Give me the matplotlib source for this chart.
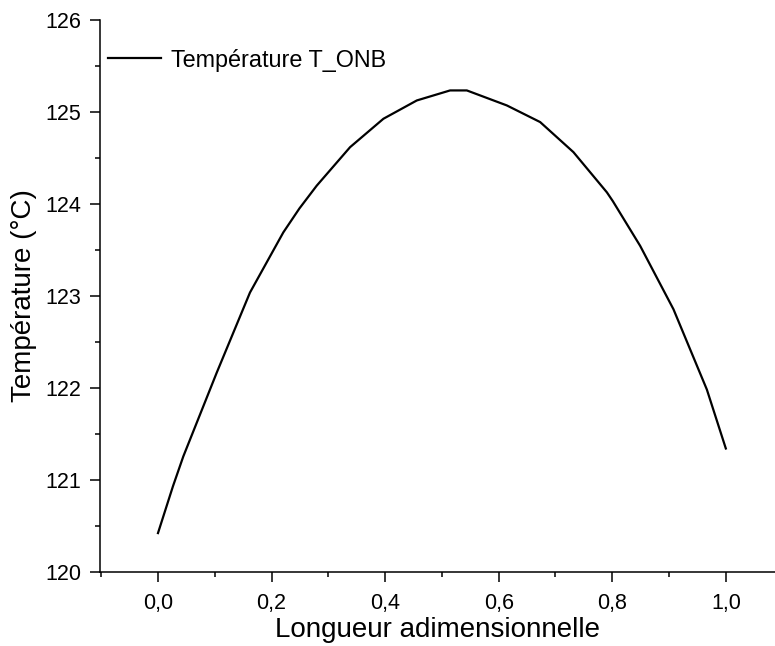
import matplotlib
matplotlib.use("Agg")
import matplotlib.pyplot as plt
from matplotlib.ticker import MultipleLocator, FuncFormatter

plt.rcParams['font.family'] = ['Liberation Sans', 'DejaVu Sans']

# Data
longueur = [0.0, 0.0264, 0.0446, 0.1034, 0.162, 0.2207, 0.249, 0.2795, 0.3383,
            0.397, 0.4558, 0.5144, 0.5439, 0.6143, 0.673, 0.7316, 0.7905,
            0.801, 0.8491, 0.9078, 0.9666, 1.0]
temperature = [120.42, 120.93, 121.254, 122.164, 123.036, 123.69, 123.95,
               124.198, 124.617, 124.926, 125.125, 125.234, 125.234, 125.071,
               124.89, 124.563, 124.126, 124.03, 123.544, 122.854, 121.981,
               121.34]
series_label = "Température T_ONB"
x_label = "Longueur adimensionnelle"
y_label = "Température (°C)"

W, H = 775, 646
fig = plt.figure(figsize=(W / 100, H / 100), dpi=100)
left_px, right_px, bottom_px, top_px = 99.5, 775, 571.7, 20
ax = fig.add_axes([left_px / W, 1 - bottom_px / H,
                   (right_px - left_px) / W, (bottom_px - top_px) / H])

ax.plot(longueur, temperature, color='black', lw=1.6, label=series_label,
        solid_joinstyle='round')

ax.set_xlim(-0.103, 1.0866)
ax.set_ylim(120, 126)

for s in ['top', 'right']:
    ax.spines[s].set_visible(False)
for s in ['left', 'bottom']:
    ax.spines[s].set_linewidth(1.1)

ax.xaxis.set_major_locator(MultipleLocator(0.2))
ax.xaxis.set_minor_locator(MultipleLocator(0.1))
ax.yaxis.set_major_locator(MultipleLocator(1))
ax.yaxis.set_minor_locator(MultipleLocator(0.5))
ax.xaxis.set_major_formatter(FuncFormatter(lambda v, p: f"{v:.1f}".replace('.', ',')))
ax.yaxis.set_major_formatter(FuncFormatter(lambda v, p: f"{v:.0f}"))

ax.tick_params(which='major', direction='out', length=7, width=1.1,
               labelsize=15.5, pad=6)
ax.tick_params(axis='x', which='major', pad=8)
ax.tick_params(which='minor', direction='out', length=3.5, width=1.1)

ax.set_xlabel(x_label, fontsize=20, labelpad=2.5)
ax.set_ylabel(y_label, fontsize=20, labelpad=6)

ax.legend(loc='center left', bbox_to_anchor=(8.5 / (right_px - left_px), (bottom_px - 60) / (bottom_px - top_px)),
          frameon=False, fontsize=16.8, handlelength=2.27, handletextpad=0.44,
          borderpad=0, borderaxespad=0)

fig.savefig("out.png", dpi=100)
